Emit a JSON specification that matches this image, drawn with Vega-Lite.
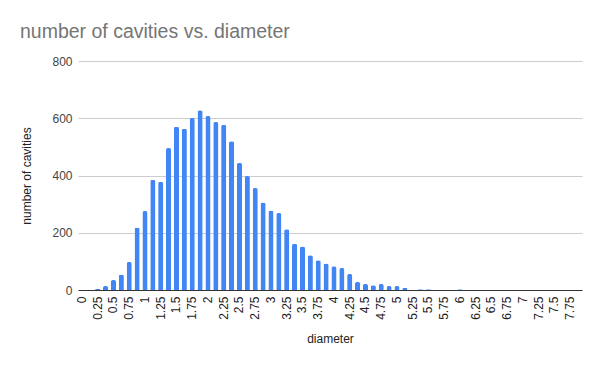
{
  "$schema": "https://vega.github.io/schema/vega-lite/v6.json",
  "autosize": "none",
  "padding": {"left": 78, "top": 61, "right": 18, "bottom": 81},
  "width": 504,
  "height": 229,
  "background": "#ffffff",
  "title": {
    "text": "number of cavities vs. diameter",
    "anchor": "start",
    "frame": "bounds",
    "dx": -1,
    "dy": 1,
    "font": "Liberation Sans",
    "fontSize": 19.5,
    "fontWeight": "normal",
    "color": "#757575",
    "offset": 14
  },
  "data": {
    "values": [
      {"d": "0", "n": 0}, {"d": "0.125", "n": 0}, {"d": "0.25", "n": 4}, {"d": "0.375", "n": 14},
      {"d": "0.5", "n": 35}, {"d": "0.625", "n": 54}, {"d": "0.75", "n": 98}, {"d": "0.875", "n": 218},
      {"d": "1", "n": 276}, {"d": "1.125", "n": 385}, {"d": "1.25", "n": 378}, {"d": "1.375", "n": 496},
      {"d": "1.5", "n": 570}, {"d": "1.625", "n": 563}, {"d": "1.75", "n": 601}, {"d": "1.875", "n": 628},
      {"d": "2", "n": 608}, {"d": "2.125", "n": 587}, {"d": "2.25", "n": 577}, {"d": "2.375", "n": 520},
      {"d": "2.5", "n": 444}, {"d": "2.625", "n": 398}, {"d": "2.75", "n": 356}, {"d": "2.875", "n": 306},
      {"d": "3", "n": 278}, {"d": "3.125", "n": 269}, {"d": "3.25", "n": 212}, {"d": "3.375", "n": 162},
      {"d": "3.5", "n": 152}, {"d": "3.625", "n": 121}, {"d": "3.75", "n": 104}, {"d": "3.875", "n": 93},
      {"d": "4", "n": 83}, {"d": "4.125", "n": 77}, {"d": "4.25", "n": 56}, {"d": "4.375", "n": 28},
      {"d": "4.5", "n": 21}, {"d": "4.625", "n": 17}, {"d": "4.75", "n": 21}, {"d": "4.875", "n": 14},
      {"d": "5", "n": 14}, {"d": "5.125", "n": 7}, {"d": "5.25", "n": 0}, {"d": "5.375", "n": 3},
      {"d": "5.5", "n": 3}, {"d": "5.625", "n": 0}, {"d": "5.75", "n": 0}, {"d": "5.875", "n": 0},
      {"d": "6", "n": 3}, {"d": "6.125", "n": 0}, {"d": "6.25", "n": 0}, {"d": "6.375", "n": 0},
      {"d": "6.5", "n": 0}, {"d": "6.625", "n": 0}, {"d": "6.75", "n": 0}, {"d": "6.875", "n": 0},
      {"d": "7", "n": 0}, {"d": "7.125", "n": 0}, {"d": "7.25", "n": 0}, {"d": "7.375", "n": 0},
      {"d": "7.5", "n": 0}, {"d": "7.625", "n": 0}, {"d": "7.75", "n": 0}, {"d": "7.875", "n": 0}
    ]
  },
  "mark": {
    "type": "bar",
    "color": "#4285F4",
    "cornerRadiusTopLeft": 2,
    "cornerRadiusTopRight": 2
  },
  "encoding": {
    "x": {
      "field": "d",
      "type": "ordinal",
      "sort": null,
      "scale": {"paddingInner": 0.35, "paddingOuter": 0.175},
      "axis": {
        "title": "diameter",
        "titleFont": "Liberation Sans",
        "titleFontSize": 12,
        "titleFontWeight": "normal",
        "titleColor": "#222222",
        "titlePadding": 14,
        "values": ["0","0.25","0.5","0.75","1","1.25","1.5","1.75","2","2.25","2.5","2.75","3","3.25","3.5","3.75","4","4.25","4.5","4.75","5","5.25","5.5","5.75","6","6.25","6.5","6.75","7","7.25","7.5","7.75"],
        "labelAngle": 270,
        "labelAlign": "right",
        "labelBaseline": "middle",
        "labelFont": "Liberation Sans",
        "labelFontSize": 12,
        "labelColor": "#222222",
        "labelPadding": 6,
        "ticks": false,
        "domainColor": "#333333",
        "domainWidth": 1
      }
    },
    "y": {
      "field": "n",
      "type": "quantitative",
      "scale": {"domain": [0, 800]},
      "axis": {
        "title": "number of cavities",
        "titleFont": "Liberation Sans",
        "titleFontSize": 12,
        "titleFontWeight": "normal",
        "titleColor": "#222222",
        "titlePadding": 18,
        "values": [0, 200, 400, 600, 800],
        "labelFont": "Liberation Sans",
        "labelFontSize": 12,
        "labelColor": "#444444",
        "labelPadding": 6,
        "ticks": false,
        "domain": false,
        "gridColor": "#cccccc",
        "gridWidth": 1
      }
    }
  },
  "config": {
    "view": {"stroke": null}
  }
}
